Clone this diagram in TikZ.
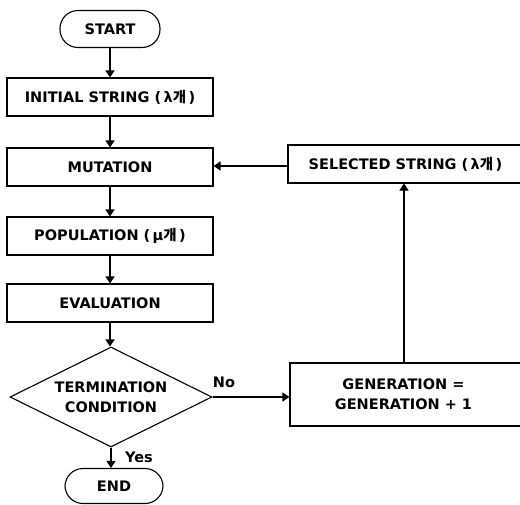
\documentclass[tikz,border=0pt]{standalone}
\usepackage{fontspec}
\setmainfont{DejaVu Sans}
\newfontfamily\kr{Noto Sans CJK KR}
\usetikzlibrary{shapes.geometric,arrows.meta}
\begin{document}
\begin{tikzpicture}[x=1pt,y=-1pt,
  font=\fontsize{14.5}{20}\selectfont\bfseries,
  line width=1.1pt,
  box/.style={draw, rectangle, inner sep=0pt, minimum height=38pt, align=center},
  term/.style={draw, rectangle, rounded corners=18pt, inner sep=0pt, minimum width=100pt, minimum height=37pt},
  dec/.style={draw, diamond, aspect=2, inner sep=0pt, minimum width=202pt, minimum height=100pt, align=center},
  arr/.style={-{Triangle[width=9pt,length=7pt]}},
  lab/.style={inner sep=1pt}]
\useasboundingbox (0,0) rectangle (520,504);
\clip (0,0) rectangle (520,504);
\node[term] (start) at (110,29) {START};
\node[box, minimum width=206pt] (init) at (110,97) {INITIAL STRING (\,λ{\kr 개}\,)};
\node[box, minimum width=206pt] (mut) at (110,167) {MUTATION};
\node[box, minimum width=206pt] (pop) at (110,236) {POPULATION (\,μ{\kr 개}\,)};
\node[box, minimum width=206pt] (eval) at (110,303) {EVALUATION};
\node[dec] (cond) at (111,397) {TERMINATION\\CONDITION};
\node[term, minimum width=98pt, minimum height=35pt] (end) at (114,486) {END};
\node[box, minimum width=235pt] (sel) at (405.5,164) {SELECTED STRING (\,λ{\kr 개}\,)};
\node[box, minimum width=233pt, minimum height=63pt] (gen) at (406.5,394.5) {\hspace*{-6pt}GENERATION =\\\hspace*{-6pt}GENERATION + 1};
\draw[arr] (start.south) -- (init.north);
\draw[arr] (init.south) -- (mut.north);
\draw[arr] (mut.south) -- (pop.north);
\draw[arr] (pop.south) -- (eval.north);
\draw[arr] (eval.south) -- (eval.south |- cond.north);
\draw[arr] (cond.south) -- (cond.south |- end.north);
\draw[arr] (cond.east) -- (gen.west |- cond.east);
\draw[arr] (gen.north -| 404,0) -- (sel.south -| 404,0);
\draw[arr] (sel.west |- 0,166) -- (mut.east |- 0,166);
\node[lab] (no) at (224,382) {No};
\node[lab] (yes) at (139,457) {Yes};
\end{tikzpicture}
\end{document}
